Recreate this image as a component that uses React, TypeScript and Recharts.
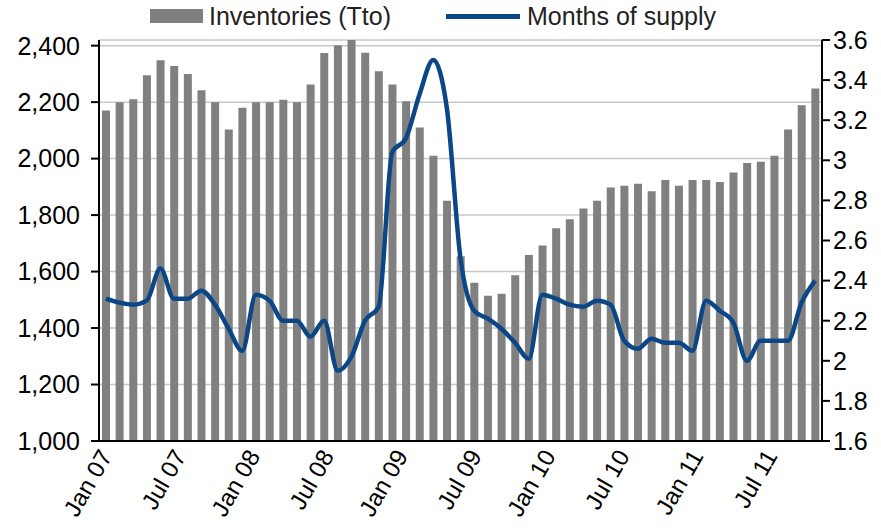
import { Bar, CartesianGrid, ComposedChart, Legend, Line, XAxis, YAxis } from "recharts";

// monthly-ish readings, oldest first
const inventories = [
  2170, 2200, 2210, 2295, 2348, 2328, 2300, 2242, 2200, 2103,
  2180, 2200, 2200, 2208, 2200, 2262, 2374, 2401, 2420, 2375,
  2309, 2262, 2203, 2110, 2010, 1851, 1654, 1560, 1514, 1521,
  1587, 1659, 1692, 1753, 1785, 1823, 1851, 1898, 1904, 1911,
  1884, 1924, 1904, 1924, 1924, 1917, 1951, 1984, 1989, 2010,
  2103, 2189, 2248,
];

const monthsOfSupply = [
  2.31, 2.29, 2.28, 2.3, 2.46, 2.31, 2.31, 2.35, 2.28, 2.16,
  2.05, 2.33, 2.3, 2.2, 2.2, 2.12, 2.2, 1.95, 2.02, 2.2,
  2.27, 3.04, 3.11, 3.33, 3.5, 3.26, 2.51, 2.25, 2.21, 2.16,
  2.09, 2.01, 2.33, 2.31, 2.28, 2.27, 2.3, 2.28, 2.1, 2.06,
  2.11, 2.09, 2.09, 2.05, 2.3, 2.25, 2.19, 2.0, 2.1, 2.1,
  2.1, 2.29, 2.4,
];

const dateLabels = ["Jan 07", "Jul 07", "Jan 08", "Jul 08", "Jan 09", "Jul 09", "Jan 10", "Jul 10", "Jan 11", "Jul 11"];
const labelMonths = [0, 6, 12, 18, 24, 30, 36, 42, 48, 54];

const leftTicks = [1000, 1200, 1400, 1600, 1800, 2000, 2200, 2400];
const rightTicks = [1.6, 1.8, 2.0, 2.2, 2.4, 2.6, 2.8, 3.0, 3.2, 3.4, 3.6];

const data = inventories.map((v, i) => ({
  period: i,
  inventories: v,
  supply: monthsOfSupply[i],
}));

const FONT = "'Liberation Sans', Arial, sans-serif";
const BAR_GREY = "#808080";
const LINE_BLUE = "#0B4787";

function DateTick({ x, y, payload }: any) {
  const idx = labelMonths.indexOf(payload.value);
  return (
    <text
      x={x}
      y={y + 15}
      transform={`rotate(-60, ${x}, ${y + 15})`}
      textAnchor="end"
      fontSize={24}
      fill="#000"
      fontFamily={FONT}
    >
      {dateLabels[idx]}
    </text>
  );
}

function LegendRow({ payload }: any) {
  return (
    <div style={{ display: "flex", fontFamily: FONT, fontSize: 25, color: "#222", height: 30, lineHeight: "30px", alignItems: "center" }}>
      {(payload || []).map((entry: any) => (
        <div key={entry.value} style={{ display: "flex", alignItems: "center", marginRight: 55 }}>
          {entry.type === "rect" ? (
            <span style={{ display: "inline-block", width: 53, height: 14, background: BAR_GREY, marginRight: 6 }} />
          ) : (
            <span style={{ display: "inline-block", width: 74, height: 5, background: LINE_BLUE, marginRight: 7 }} />
          )}
          <span>{entry.value}</span>
        </div>
      ))}
    </div>
  );
}

export default function App() {
  return (
    <div style={{ position: "absolute", left: 0, top: 0 }}>
      <ComposedChart
        width={881}
        height={528}
        data={data}
        margin={{ top: 10, right: 0, bottom: 0, left: 0 }}
        style={{ fontFamily: FONT }}
      >
        <CartesianGrid xAxisId="cat" yAxisId="left" vertical={false} stroke="#c8c8c8" strokeWidth={1.5} />
        <XAxis xAxisId="cat" dataKey="period" hide height={0} />
        <XAxis
          xAxisId="date"
          dataKey="month"
          type="number"
          domain={[-1.14, 57.56]}
          allowDataOverflow
          ticks={labelMonths}
          interval={0}
          tick={<DateTick />}
          tickLine={false}
          tickSize={0}
          tickMargin={0}
          axisLine={{ stroke: "#000", strokeWidth: 2 }}
          height={87}
        />
        <YAxis
          yAxisId="left"
          domain={[1000, 2400]}
          ticks={leftTicks}
          interval={0}
          width={99}
          tickSize={8}
          tickMargin={11}
          tickFormatter={(v: number) => v.toLocaleString("en-US")}
          tick={{ fontSize: 25, fill: "#000" }}
          axisLine={{ stroke: "#000", strokeWidth: 2 }}
          tickLine={{ stroke: "#000", strokeWidth: 2 }}
        />
        <YAxis
          yAxisId="right"
          orientation="right"
          domain={[1.6, 3.6]}
          ticks={rightTicks}
          interval={0}
          width={59}
          tickSize={8}
          tickMargin={3}
          tickFormatter={(v: number) => String(Number(v.toFixed(1)))}
          tick={{ fontSize: 25, fill: "#000" }}
          axisLine={{ stroke: "#000", strokeWidth: 2 }}
          tickLine={{ stroke: "#000", strokeWidth: 2 }}
        />
        <Legend
          verticalAlign="top"
          align="left"
          height={30}
          content={<LegendRow />}
          wrapperStyle={{ top: 1, left: 150 }}
        />
        <Bar
          xAxisId="cat"
          yAxisId="left"
          dataKey="inventories"
          name="Inventories (Tto)"
          fill={BAR_GREY}
          barSize={8}
          legendType="rect"
          isAnimationActive={false}
        />
        <Line
          xAxisId="cat"
          yAxisId="right"
          dataKey="supply"
          name="Months of supply"
          type="monotone"
          stroke={LINE_BLUE}
          strokeWidth={4.5}
          dot={false}
          legendType="line"
          isAnimationActive={false}
        />
      </ComposedChart>
    </div>
  );
}
